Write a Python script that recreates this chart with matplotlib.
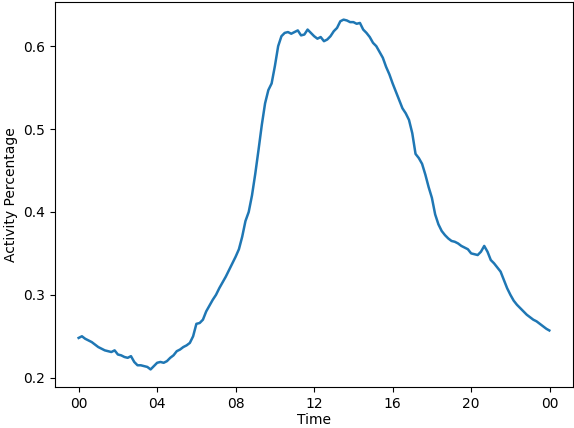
import matplotlib.pyplot as plt
import numpy as np

# activity share over one day, read every 10 minutes (last one at 23:59)
minutes = list(range(0, 1440, 10)) + [1439]
activity = [
    0.248, 0.250, 0.247, 0.245, 0.243, 0.240,   # 00
    0.237, 0.235, 0.233, 0.232, 0.231, 0.233,   # 01
    0.228, 0.227, 0.225, 0.224, 0.226, 0.219,   # 02
    0.215, 0.215, 0.214, 0.213, 0.210, 0.214,   # 03
    0.218, 0.219, 0.218, 0.220, 0.224, 0.227,   # 04
    0.232, 0.234, 0.237, 0.239, 0.242, 0.250,   # 05
    0.265, 0.266, 0.270, 0.280, 0.287, 0.294,   # 06
    0.300, 0.308, 0.315, 0.322, 0.330, 0.338,   # 07
    0.346, 0.355, 0.370, 0.389, 0.400, 0.420,   # 08
    0.446, 0.475, 0.505, 0.531, 0.547, 0.555,   # 09
    0.576, 0.600, 0.612, 0.616, 0.617, 0.615,   # 10
    0.617, 0.619, 0.613, 0.614, 0.620, 0.616,   # 11
    0.612, 0.609, 0.611, 0.606, 0.608, 0.612,   # 12
    0.618, 0.622, 0.630, 0.632, 0.631, 0.629,   # 13
    0.629, 0.627, 0.628, 0.620, 0.616, 0.611,   # 14
    0.604, 0.600, 0.593, 0.586, 0.575, 0.566,   # 15
    0.555, 0.545, 0.535, 0.525, 0.519, 0.511,   # 16
    0.495, 0.470, 0.465, 0.458, 0.445, 0.430,   # 17
    0.417, 0.397, 0.385, 0.377, 0.372, 0.368,   # 18
    0.365, 0.364, 0.362, 0.359, 0.357, 0.355,   # 19
    0.350, 0.349, 0.348, 0.352, 0.359, 0.352,   # 20
    0.342, 0.338, 0.333, 0.328, 0.318, 0.308,   # 21
    0.300, 0.293, 0.288, 0.284, 0.280, 0.276,   # 22
    0.273, 0.270, 0.268, 0.265, 0.262, 0.259,   # 23
    0.257,
]
tick_hours = [0, 4, 8, 12, 16, 20, 24]
tick_labels = ["00", "04", "08", "12", "16", "20", "00"]

hours = np.array(minutes) / 60.0

fig, ax = plt.subplots(figsize=(5.74, 4.28), dpi=100)
fig.subplots_adjust(left=0.096, right=0.998, top=0.995, bottom=0.096)

ax.plot(hours, activity, color='#1f77b4', linewidth=1.8)

ax.set_xticks(tick_hours)
ax.set_xticklabels(tick_labels)
ax.set_xlabel('Time', labelpad=2)
ax.set_ylabel('Activity Percentage', labelpad=4)

plt.savefig("out.png")
